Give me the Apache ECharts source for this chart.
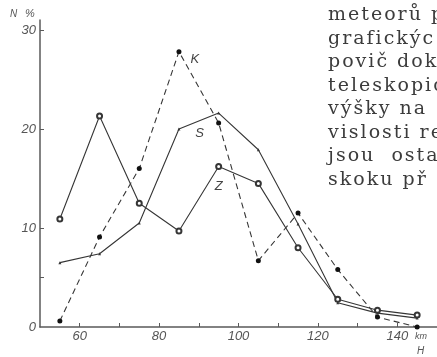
<!DOCTYPE html>
<html>
<head>
<meta charset="utf-8">
<script src="https://cdn.jsdelivr.net/npm/echarts@6/dist/echarts.min.js"></script>
<style>html,body{margin:0;padding:0;background:#fff}#c{width:437px;height:357px}</style>
</head>
<body>
<div id="c"></div>
<script>
var heights = [55, 65, 75, 85, 95, 105, 115, 125, 135, 145];
var seriesZ = [10.9, 21.3, 12.5, 9.7, 16.2, 14.5, 8.0, 2.8, 1.7, 1.2];
var seriesK = [0.6, 9.1, 16.0, 27.8, 20.6, 6.7, 11.5, 5.8, 1.0, 0.0];
var seriesS = [6.5, 7.4, 10.5, 20.0, 21.6, 17.9, 10.4, 2.45, 1.4, 0.9];
var xTickLabels = [60, 80, 100, 120, 140];
var xTicks = [60, 70, 80, 90, 100, 110, 120, 130, 140];
var yTickLabels = [0, 10, 20, 30];
var yTicks = [5, 10, 20, 30];
var seriesNames = ['Z', 'K', 'S'];
var pageLines = ['meteorů p', 'grafickýc', 'povič dok', 'teleskopic', 'výšky na', 'vislosti re', 'jsou  osta', 'skoku př'];

function pairs(vals) { return heights.map(function (h, i) { return [h, vals[i]]; }); }

var chart = echarts.init(document.getElementById('c'), null, {renderer: 'canvas'});
var lineCol = '#363636';
var axisCol = '#5a5a5a';
var labelFont = {fontFamily: 'Liberation Sans', fontStyle: 'italic', fontSize: 13, color: '#555'};

// page text beside the figure, laid out with letter spacing
var pageSize = 19;
var mctx = document.createElement('canvas').getContext('2d');
mctx.font = pageSize + 'px "DejaVu Serif"';
var graphics = [];
pageLines.forEach(function (t, i) {
  var x = 328;
  Array.from(t).forEach(function (ch) {
    graphics.push({
      type: 'text', x: x, y: 6 + i * 23.5,
      style: {text: ch, fontSize: pageSize, fontFamily: 'DejaVu Serif', fill: '#3c3c3c', verticalAlign: 'top'}
    });
    x += mctx.measureText(ch).width + 2.0;
  });
});
graphics.push({type: 'text', x: 10, y: 9, style: {text: 'N', fontSize: 10, fontStyle: 'italic', fontFamily: 'Liberation Sans', fill: '#555', verticalAlign: 'top'}});
graphics.push({type: 'text', x: 25, y: 8, style: {text: '%', fontSize: 11, fontStyle: 'italic', fontFamily: 'Liberation Sans', fill: '#555', verticalAlign: 'top'}});
graphics.push({type: 'text', x: 415, y: 332, style: {text: 'km', fontSize: 9, fontStyle: 'italic', fontFamily: 'Liberation Sans', fill: '#555', verticalAlign: 'top'}});
graphics.push({type: 'text', x: 417, y: 346, style: {text: 'H', fontSize: 10, fontStyle: 'italic', fontFamily: 'Liberation Sans', fill: '#555', verticalAlign: 'top'}});

chart.setOption({
  animation: false,
  backgroundColor: '#fff',
  grid: {left: 40, right: 0, top: 20, bottom: 30, containLabel: false},
  xAxis: {
    type: 'value', min: 50, max: 150,
    axisLine: {show: true, onZero: false, lineStyle: {color: axisCol, width: 1.5}},
    axisTick: {show: true, inside: true, length: 4, customValues: xTicks, lineStyle: {color: axisCol}},
    axisLabel: Object.assign({customValues: xTickLabels, margin: 3}, labelFont),
    splitLine: {show: false}
  },
  yAxis: {
    type: 'value', min: 0, max: 31,
    axisLine: {show: true, onZero: false, lineStyle: {color: axisCol, width: 1.5}},
    axisTick: {show: true, inside: true, length: 4, customValues: yTicks, lineStyle: {color: axisCol}},
    axisLabel: Object.assign({customValues: yTickLabels, margin: 4}, labelFont),
    splitLine: {show: false}
  },
  graphic: graphics,
  series: [
    {
      name: seriesNames[0], type: 'line', data: pairs(seriesZ),
      symbol: 'emptyCircle', symbolSize: 5,
      lineStyle: {color: lineCol, width: 1.1},
      itemStyle: {color: lineCol, borderWidth: 0.8}
    },
    {
      name: seriesNames[1], type: 'line', data: pairs(seriesK),
      symbol: 'circle', symbolSize: 5,
      lineStyle: {color: lineCol, width: 1.1, type: [6, 4]},
      itemStyle: {color: '#111'}
    },
    {
      name: seriesNames[2], type: 'line', data: pairs(seriesS),
      symbol: 'triangle', symbolSize: 3,
      lineStyle: {color: lineCol, width: 1.1},
      itemStyle: {color: lineCol}
    }
  ]
});

var labelPos = [[95, 14.2, 'Z'], [89, 27.0, 'K'], [90.2, 19.6, 'S']];
var extra = labelPos.map(function (p) {
  var px = chart.convertToPixel({gridIndex: 0}, [p[0], p[1]]);
  return {type: 'text', x: px[0], y: px[1], style: {text: p[2], fontSize: 13, fontStyle: 'italic', fontFamily: 'Liberation Sans', fill: '#444', align: 'center', verticalAlign: 'middle'}};
});
chart.setOption({graphic: graphics.concat(extra)});
</script>
</body>
</html>
